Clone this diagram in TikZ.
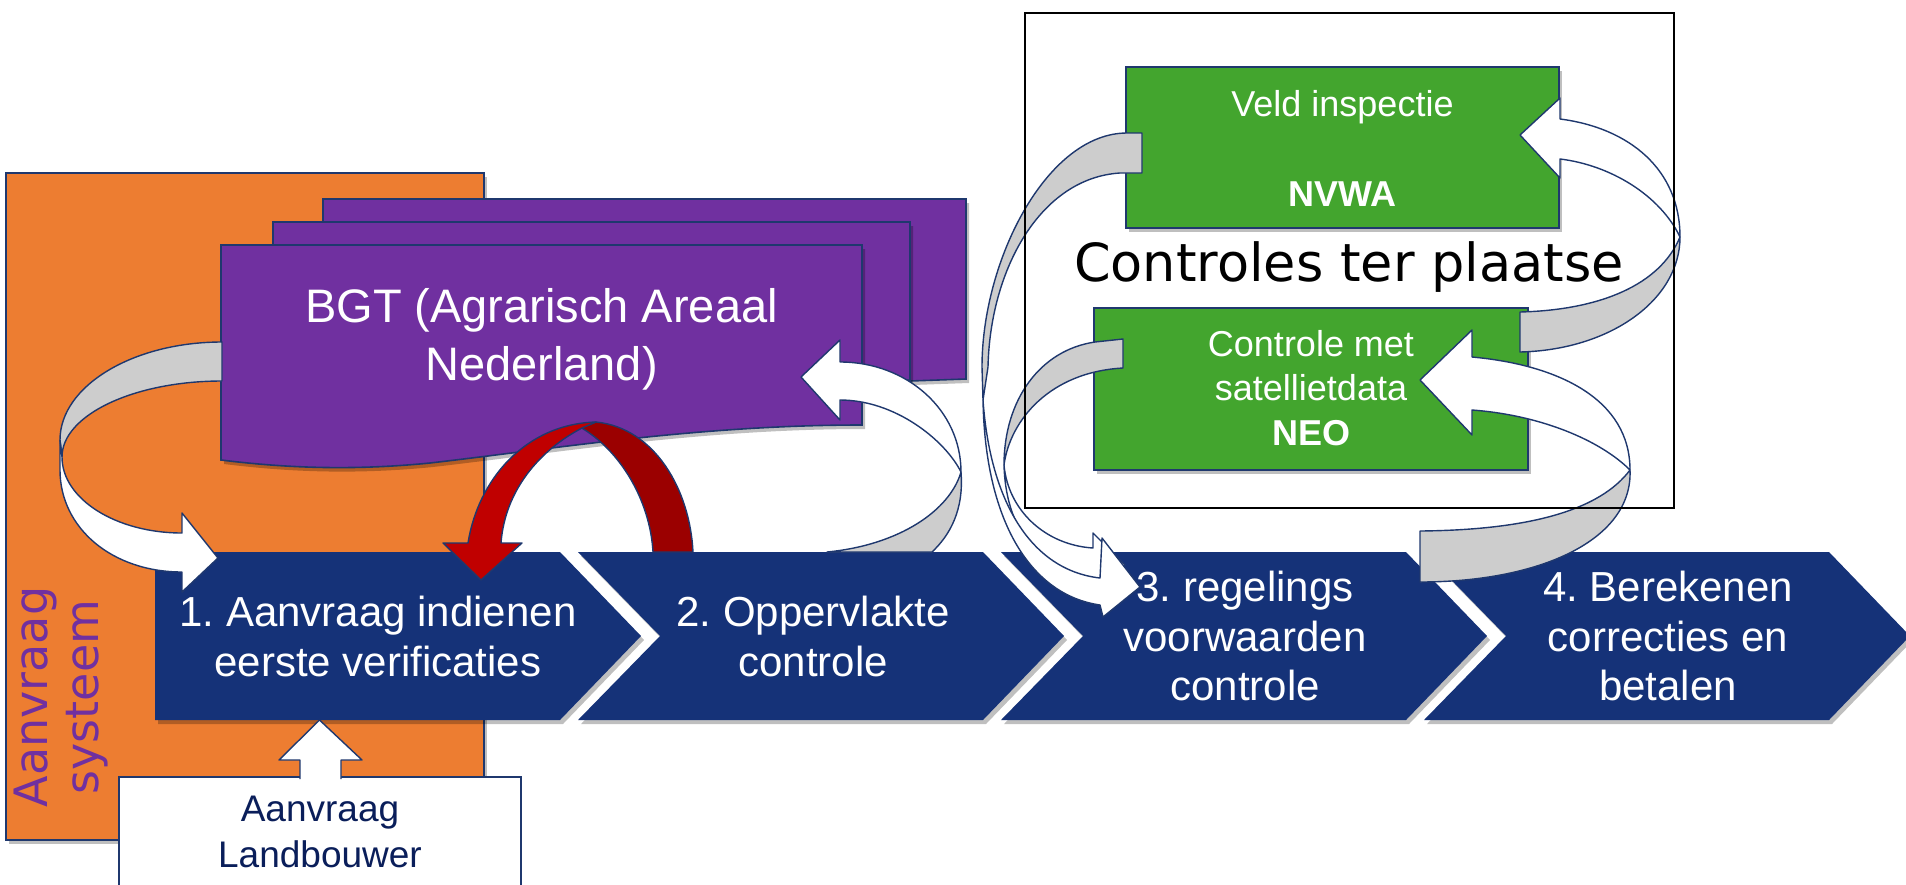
\documentclass[tikz,border=0pt]{standalone}
\usepackage{fontspec}
\setmainfont{Liberation Sans}
\newfontfamily\dejavu{DejaVu Sans}
\usetikzlibrary{shadows}
\frenchspacing
\definecolor{chevblue}{RGB}{21,50,120}
\definecolor{edgeblue}{RGB}{31,56,110}
\definecolor{orangefill}{RGB}{237,125,49}
\definecolor{purplefill}{RGB}{112,48,160}
\definecolor{greenfill}{RGB}{67,165,46}
\definecolor{redfront}{RGB}{192,0,0}
\definecolor{redback}{RGB}{155,0,0}
\definecolor{ribbongray}{RGB}{205,205,205}
\definecolor{textnavy}{RGB}{10,30,90}
\begin{document}
\begin{tikzpicture}[x=1pt,y=-1pt,
  dropsh/.style={drop shadow={shadow xshift=3pt,shadow yshift=-4pt,opacity=0.25,fill=black}},
  chevron/.style={fill=chevblue,dropsh},
  docshape/.style={fill=purplefill,draw=edgeblue,line width=1.6pt,dropsh},
  greenbox/.style={fill=greenfill,draw=edgeblue,line width=1.6pt,dropsh},
  ribw/.style={fill=white,draw=edgeblue,line width=1.4pt,line join=round},
  ribg/.style={fill=ribbongray,draw=edgeblue,line width=1.4pt,line join=round},
  redf/.style={fill=redfront,draw=edgeblue,line width=1.4pt,line join=round},
  redb/.style={fill=redback,draw=edgeblue,line width=1.4pt,line join=round},
  chevtext/.style={text=white,align=center,font=\fontsize{42}{50}\selectfont},
  chevtextthree/.style={text=white,align=center,font=\fontsize{42}{49.5}\selectfont},
  greentext/.style={text=white,align=center,font=\fontsize{36}{44.5}\selectfont}
]
\useasboundingbox (0,0) rectangle (1906,884);

% Aanvraag systeem (orange)
\filldraw[fill=orangefill,draw=edgeblue,line width=2.5pt,dropsh] (6,173) rectangle (484,840);

% purple multidocument
\filldraw[docshape] (323,199) -- (966,199) -- (966,379) -- (910,381) -- (323,390) -- cycle;
\filldraw[docshape] (273,222) -- (910,222) -- (910,380) -- (862,382) -- (273,400) -- cycle;
\filldraw[docshape] (221,245) -- (862,245) -- (862,425)
  .. controls (700,425) and (560,448) .. (430,463)
  .. controls (340,472) and (270,466) .. (221,460) -- cycle;

% chevrons
\fill[chevron] (155,552) -- (560,552) -- (641,636) -- (560,720) -- (155,720) -- cycle;
\foreach \L in {578,1001,1424}
  \fill[chevron] (\L,552) -- ({\L+405},552) -- ({\L+486},636) -- ({\L+405},720) -- (\L,720) -- ({\L+82},636) -- cycle;

% Aanvraag Landbouwer box and block arrow
\filldraw[fill=white,draw=edgeblue,line width=1.5pt] (119,777) rectangle (521,892);
\filldraw[fill=white,draw=edgeblue,line width=1.4pt,line join=round] (300,779) -- (300,760) -- (279,760) -- (319.5,720) -- (362,760) -- (341,760) -- (341,779);

% left curved arrow (BGT -> step 1)
\filldraw[ribg] (222,342) .. controls (133,342) and (60,386) .. (60,440)
  -- (62,457) .. controls (62,415) and (134,381) .. (222,381) -- cycle;
\filldraw[ribw] (60,440) -- (60,470) .. controls (60,528) and (112,572) .. (182,572)
  -- (182,592) -- (218,558) -- (182,513) -- (182,533)
  .. controls (116,533) and (62,499) .. (62,457) -- cycle;

% right curved arrow (step 2 -> BGT)
\filldraw[ribg] (961,472) .. controls (964,510) and (950,535) .. (932,552) -- (827,552)
  .. controls (900,545) and (950,510) .. (961,472) -- cycle;
\filldraw[ribw] (840,362) .. controls (907,362) and (961,410) .. (961,472)
  .. controls (945,440) and (895,400) .. (840,400)
  -- (840,420) -- (801,377) -- (840,340) -- cycle;

% red arch (step 2 -> step 1)
\filldraw[redb] (580,427) .. controls (620,450) and (650,500) .. (653,552) -- (693,552)
  .. controls (690,490) and (655,428) .. (596,422) -- cycle;
\filldraw[redf] (443,543) -- (468,543) .. controls (478,480) and (525,424) .. (596,422)
  -- (582,428) .. controls (540,450) and (505,490) .. (501,543)
  -- (522,543) -- (481,580) -- cycle;

% texts on purple, orange, chevrons, white box
\node[text=white,align=center,font=\fontsize{47}{58}\selectfont] (bgt) at (541.5,339) {BGT (Agrarisch Areaal\\Nederland)};
\node[text=purplefill,rotate=90,align=center,font=\dejavu\fontsize{46}{51}\selectfont] (syslabel) at (61,697) {Aanvraag\\systeem};
\node[chevtext] (s1) at (378,636) {1. Aanvraag indienen\\eerste verificaties};
\node[chevtext] (s2) at (813,636) {2. Oppervlakte\\controle};
\node[chevtextthree] (s3) at (1245,636) {3. regelings\\voorwaarden\\controle};
\node[chevtextthree] (s4) at (1668,636) {4. Berekenen\\correcties en\\betalen};
\node[text=textnavy,align=center,font=\fontsize{37}{46}\selectfont] (lb) at (320,832) {Aanvraag\\Landbouwer};

% green boxes
\filldraw[greenbox] (1126,67) rectangle (1559,228);
\filldraw[greenbox] (1094,308) rectangle (1528,470);
\node[anchor=base,text=white,font=\fontsize{36}{40}\selectfont] (veld) at (1342.5,116) {Veld inspectie};
\node[anchor=base,text=white,font=\bfseries\fontsize{36}{40}\selectfont] (nvwa) at (1342.5,206) {NVWA};
\node[greentext] (neo) at (1311,388) {Controle met\\satellietdata\\\textbf{NEO}};
\node[anchor=base,font=\dejavu\fontsize{52.5}{60}\selectfont] (ctp) at (1349,281) {Controles ter plaatse};

% arrow A (Veld inspectie -> step 3): back face
\filldraw[ribg] (1142,133) -- (1127,133) .. controls (1047,133) and (982,260) .. (982,367) -- (983,400)
  -- (988,367) .. controls (990,270) and (1040,178) .. (1120,173) -- (1142,173) -- cycle;
% arrow B (satellite -> step 3): back face
\filldraw[ribg] (1123,339) -- (1095,342) .. controls (1040,350) and (1004,400) .. (1004,465)
  .. controls (1010,420) and (1050,372) .. (1123,368) -- cycle;
% arrow B front face
\filldraw[ribw] (1004,465) .. controls (1006,540) and (1050,575) .. (1093,578)
  -- (1093,593) -- (1125,565) -- (1093,533) -- (1093,548)
  .. controls (1045,545) and (1008,510) .. (1004,465) -- cycle;
% arrow A front face
\filldraw[ribw] (983,400) .. controls (985,520) and (1030,595) .. (1100,605)
  -- (1103,617) -- (1140,587) -- (1102,538) -- (1100,578)
  .. controls (1030,570) and (990,500) .. (983,400) -- cycle;

% arrow C (satellite -> Veld inspectie)
\filldraw[ribg] (1680,237) .. controls (1680,300) and (1610,350) .. (1520,352) -- (1520,312)
  .. controls (1600,310) and (1660,285) .. (1680,237) -- cycle;
\filldraw[ribw] (1560,119) .. controls (1630,128) and (1680,170) .. (1680,237)
  .. controls (1660,195) and (1610,165) .. (1560,159)
  -- (1560,178) -- (1520,135) -- (1560,98) -- cycle;

% arrow D (step 4 -> satellite)
\filldraw[ribg] (1630,470) .. controls (1633,540) and (1540,582) .. (1420,582) -- (1420,531)
  .. controls (1530,530) and (1600,510) .. (1630,470) -- cycle;
\filldraw[ribw] (1472,357) .. controls (1560,365) and (1630,400) .. (1630,470)
  .. controls (1600,440) and (1540,415) .. (1472,410)
  -- (1472,435) -- (1420,380) -- (1472,330) -- cycle;

% frame round the on-site checks
\draw[black,line width=2pt] (1025,12.5) rectangle (1674,508);
\end{tikzpicture}
\end{document}
